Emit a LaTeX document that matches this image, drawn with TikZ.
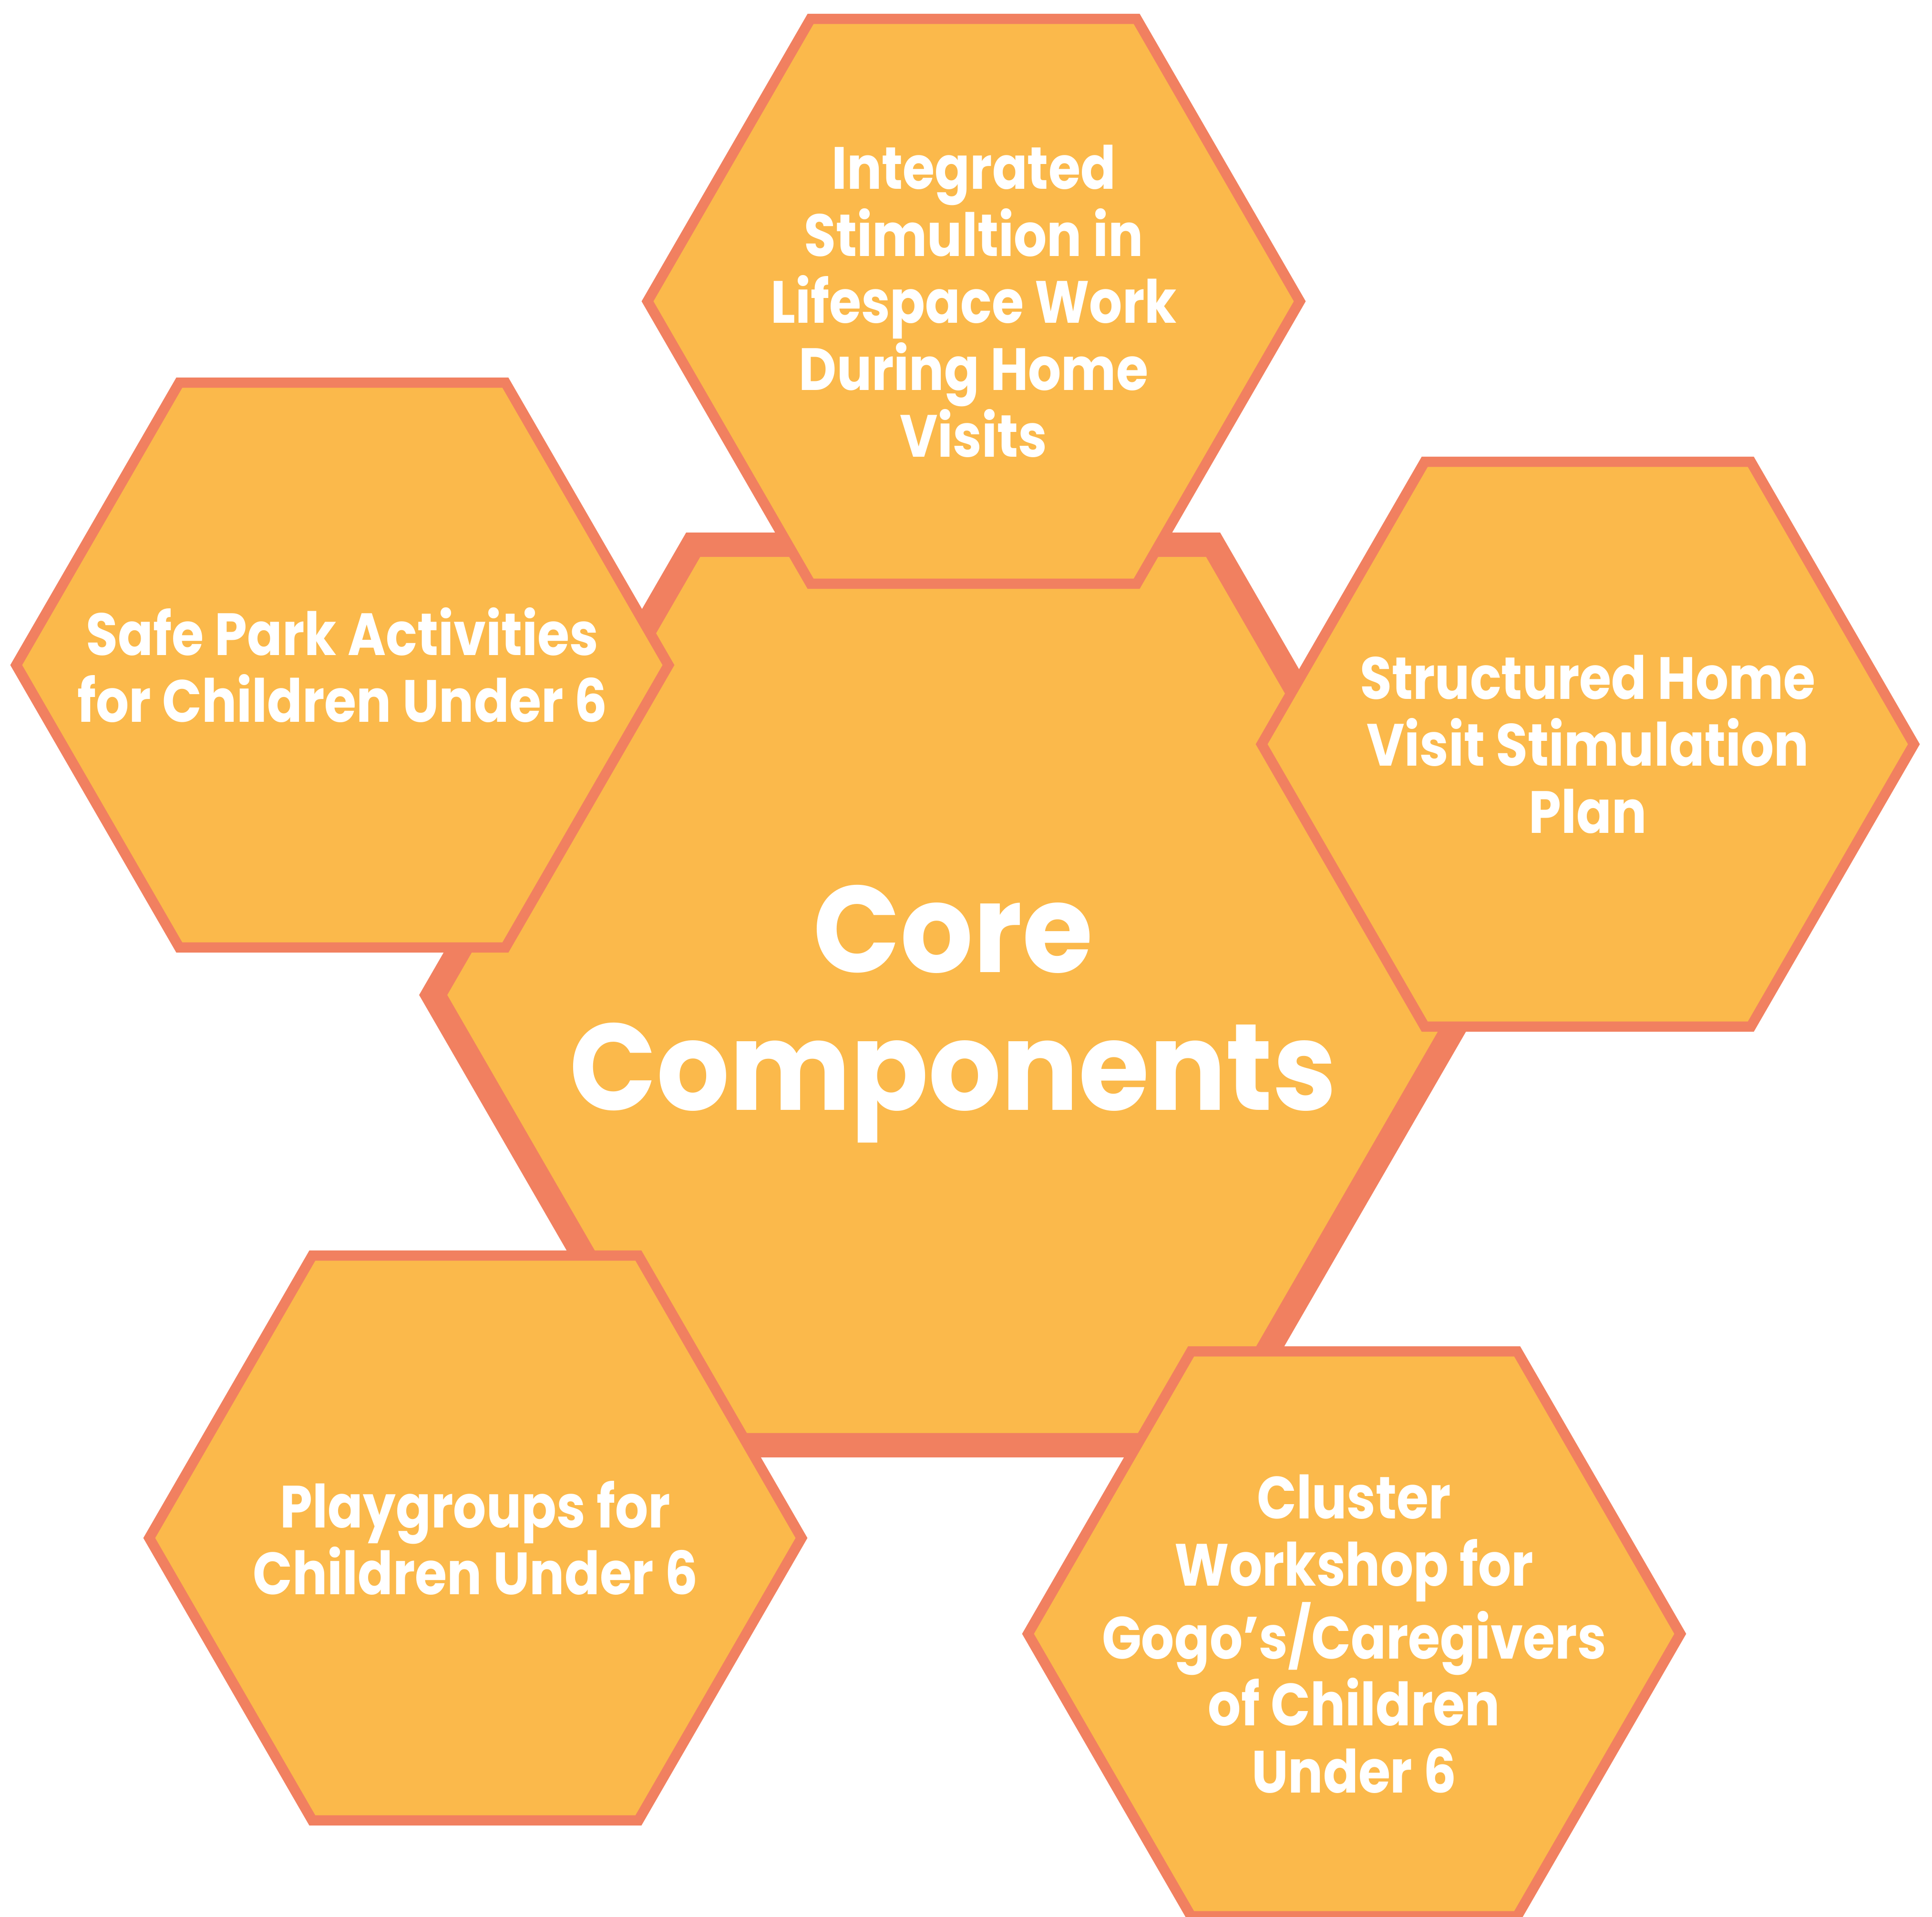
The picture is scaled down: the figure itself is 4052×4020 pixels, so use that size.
\documentclass[tikz,border=0pt]{standalone}
\usepackage{fontspec}
\setmainfont{Poppins}
\newfontfamily\hexfont{Poppins}[FakeStretch=0.87]
\newfontfamily\corefont{Poppins}[FakeStretch=0.93]
\usetikzlibrary{shapes.geometric}
\definecolor{hexfill}{HTML}{FBB94B}
\definecolor{hexline}{HTML}{F18060}
\begin{document}
\begin{tikzpicture}[x=1pt,y=-1pt,
  hexbase/.style={regular polygon, regular polygon sides=6,
    draw=hexline, fill=hexfill, line join=miter, inner sep=0pt, outer sep=0pt},
  smallhex/.style={hexbase, minimum size=1368pt, line width=21.5pt},
  corehex/.style={hexbase, minimum size=2181pt, line width=51pt},
  hextext/.style={text=white, align=center, font=\hexfont\bfseries\fontsize{125}{140.5}\selectfont},
  coretext/.style={text=white, align=center, font=\corefont\bfseries\fontsize{258}{289}\selectfont}]
\useasboundingbox (0,0) rectangle (4052,4020);

\node[corehex] (core) at (1999,2087) {};
\node[coretext, yshift=-40pt] (coretxt) at (core.center) {Core\\Components};

\node[smallhex] (top) at (2042,632) {};
\node[hextext] (toptxt) at (top.center) {Integrated\\Stimultion in\\Lifespace Work\\During Home\\Visits};

\node[smallhex] (left) at (718,1395) {};
\node[hextext] (lefttxt) at (left.center) {Safe Park Activities\\for Children Under 6};

\node[smallhex] (right) at (3330,1561) {};
\node[hextext] (righttxt) at (right.center) {Structured Home\\Visit Stimulation\\Plan};

\node[smallhex] (bl) at (997,3226) {};
\node[hextext] (bltxt) at (bl.center) {Playgroups for\\Children Under 6};

\node[smallhex] (br) at (2840,3427) {};
\node[hextext] (brtxt) at (br.center) {Cluster\\Workshop for\\Gogo’s/Caregivers\\of Children\\Under 6};
\end{tikzpicture}
\end{document}
